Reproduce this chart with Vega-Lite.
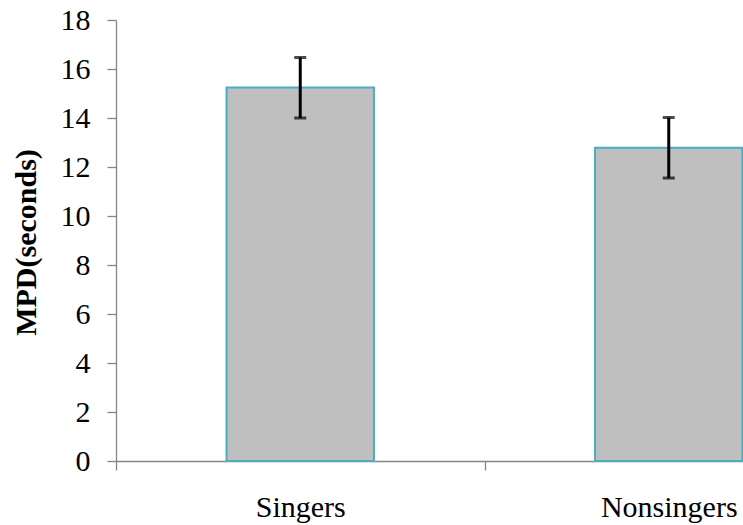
{
  "$schema": "https://vega.github.io/schema/vega-lite/v6.json",
  "width": 627,
  "height": 441,
  "autosize": {"type": "none"},
  "padding": {"left": 116, "top": 20, "right": 0, "bottom": 64},
  "background": "white",
  "config": {
    "view": {"stroke": null},
    "font": "Liberation Serif"
  },
  "data": {
    "values": [
      {"group": "Singers", "mpd": 15.24, "low": 14.0, "high": 16.47},
      {"group": "Nonsingers", "mpd": 12.79, "low": 11.55, "high": 14.02}
    ]
  },
  "encoding": {
    "x": {
      "field": "group",
      "type": "nominal",
      "sort": ["Singers", "Nonsingers"],
      "scale": {"range": [0, 737], "paddingInner": 0, "paddingOuter": 0},
      "axis": {
        "title": null,
        "labelAngle": 0,
        "labelFont": "Liberation Serif",
        "labelFontSize": 30,
        "labelColor": "black",
        "labelPadding": 22,
        "tickBand": "extent",
        "tickSize": 9,
        "tickColor": "#868686",
        "domainColor": "#868686",
        "domainWidth": 1.3,
        "tickWidth": 1.3
      }
    }
  },
  "layer": [
    {
      "mark": {"type": "bar", "fill": "#BFBFBF", "stroke": "#4BACC6", "strokeWidth": 2, "width": {"band": 0.4}},
      "encoding": {
        "y": {
          "field": "mpd",
          "type": "quantitative",
          "scale": {"domain": [0, 18], "nice": false},
          "axis": {
            "title": "MPD(seconds)",
            "titleFont": "Liberation Serif",
            "titleFontSize": 30,
            "titleFontWeight": "bold",
            "titleColor": "black",
            "titleAngle": -90,
            "titleX": -90,
            "titleY": 222,
            "titleAlign": "center",
            "titleBaseline": "middle",
            "values": [0, 2, 4, 6, 8, 10, 12, 14, 16, 18],
            "grid": false,
            "labelFont": "Liberation Serif",
            "labelFontSize": 30,
            "labelColor": "black",
            "labelPadding": 17,
            "tickSize": 9,
            "tickColor": "#868686",
            "domainColor": "#868686",
            "domainWidth": 1.3,
            "tickWidth": 1.3
          }
        }
      }
    },
    {
      "mark": {"type": "rule", "color": "black", "strokeWidth": 3},
      "encoding": {
        "y": {"field": "low", "type": "quantitative"},
        "y2": {"field": "high"}
      }
    },
    {
      "mark": {"type": "tick", "color": "black", "size": 12, "thickness": 3},
      "encoding": {"y": {"field": "low", "type": "quantitative"}}
    },
    {
      "mark": {"type": "tick", "color": "black", "size": 12, "thickness": 3},
      "encoding": {"y": {"field": "high", "type": "quantitative"}}
    }
  ]
}
